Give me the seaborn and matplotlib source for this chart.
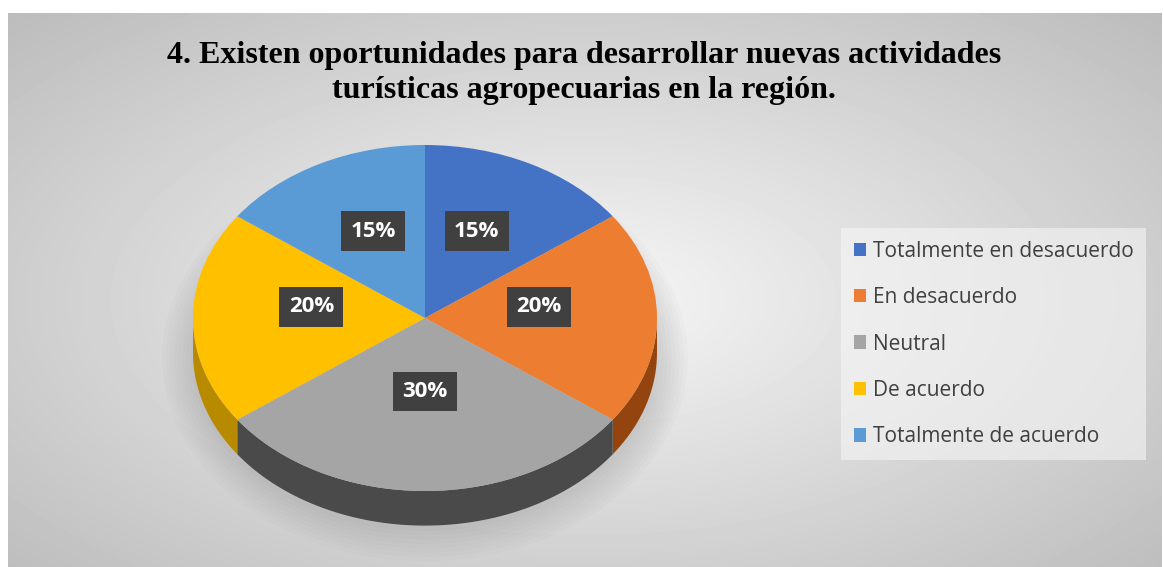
import numpy as np
import matplotlib.pyplot as plt
import seaborn as sns
from matplotlib.patches import Patch, Ellipse

# data
categories = ['Totalmente en desacuerdo', 'En desacuerdo', 'Neutral',
              'De acuerdo', 'Totalmente de acuerdo']
shares = [15, 20, 30, 20, 15]
colors = ['#4472C4', '#ED7D31', '#A5A5A5', '#FFC000', '#5B9BD5']
side_colors = ['#2f5597', '#94450f', '#4a4a4a', '#b88a00', '#3d70a0']
title = ('4. Existen oportunidades para desarrollar nuevas actividades\n'
         'turísticas agropecuarias en la región.')

sns.set_theme(style='white')
W, H = 1164, 567
fig = plt.figure(figsize=(W / 100, H / 100), dpi=100)
fig.patch.set_facecolor('white')

# gray radial background of the chart area
bg = fig.add_axes([0, 0, 1, 1])
bg.set_xlim(0, W)
bg.set_ylim(H, 0)
bg.axis('off')
xx, yy = np.meshgrid(np.linspace(8, 1162, 300), np.linspace(13, 567, 150))
d = np.sqrt(((xx - 585) / 577) ** 2 + ((yy - 300) / 287) ** 2) / np.sqrt(2)
val = (246 - 58 * d) / 255
bg.imshow(val, cmap='gray', vmin=0, vmax=1, extent=(8, 1162, 567, 13),
          aspect='auto', interpolation='bilinear')

# pie (top face squashed into an ellipse)
cx, cy, rx, ry = 425, 318, 232, 173
depth = 0.2
ax = fig.add_axes([0, 0, 1, 1])
ax.patch.set_alpha(0)
wedges, _, autotexts = ax.pie(shares, colors=colors, startangle=90, counterclock=False,
                              autopct='%1.0f%%', pctdistance=0.49, radius=1,
                              wedgeprops=dict(linewidth=0))
ax.set_aspect('auto')
ax.set_xlim(-cx / rx, (W - cx) / rx)
ax.set_ylim(-(H - cy) / ry, cy / ry)
ax.axis('off')

# soft shadow
for k in range(8):
    ax.add_patch(Ellipse((0, -depth - 0.03), 2.02 + 0.035 * k, 2.0 + 0.05 * k,
                         facecolor='#808080', edgecolor='none', alpha=0.035, zorder=0.2))

# side walls of the 3d pie
cum = np.concatenate([[0], np.cumsum(shares)]) / sum(shares)
for i in range(len(shares)):
    a0 = 90 - 360 * cum[i]
    a1 = 90 - 360 * cum[i + 1]
    lo, hi = max(a1, -180), min(a0, 0)
    if lo >= hi:
        continue
    t = np.radians(np.linspace(lo, hi, 80))
    xs = np.concatenate([np.cos(t), np.cos(t[::-1])])
    ys = np.concatenate([np.sin(t), np.sin(t[::-1]) - depth])
    ax.fill(xs, ys, color=side_colors[i], lw=0, zorder=0.5)

for t in autotexts:
    x, y = t.get_position()
    t.set_position((x, y + 0.065))
    t.set_color('white')
    t.set_fontfamily('Open Sans')
    t.set_fontweight('bold')
    t.set_fontsize(16)
    t.set_bbox(dict(boxstyle='square,pad=0.42', facecolor='#404040', edgecolor='none'))

# legend
handles = [Patch(facecolor=c, edgecolor='none') for c in colors]
leg = fig.legend(handles, categories, loc='center left',
                 bbox_to_anchor=(841 / W, 1 - 344 / H), frameon=True, fancybox=False,
                 prop=dict(family='Open Sans', size=15), handlelength=0.62,
                 handleheight=0.62, handletextpad=0.3, labelspacing=1.22,
                 borderpad=0.6, borderaxespad=0)
leg.get_frame().set_facecolor('#f6f6f6')
leg.get_frame().set_alpha(0.6)
leg.get_frame().set_edgecolor('none')
for txt in leg.get_texts():
    txt.set_color('#404040')

fig.text(0.502, 1 - 73 / H, title, ha='center', va='center', fontsize=23,
         fontweight='bold', family='Liberation Serif', linespacing=1.3, color='black')

fig.savefig('out.png', dpi=100)
